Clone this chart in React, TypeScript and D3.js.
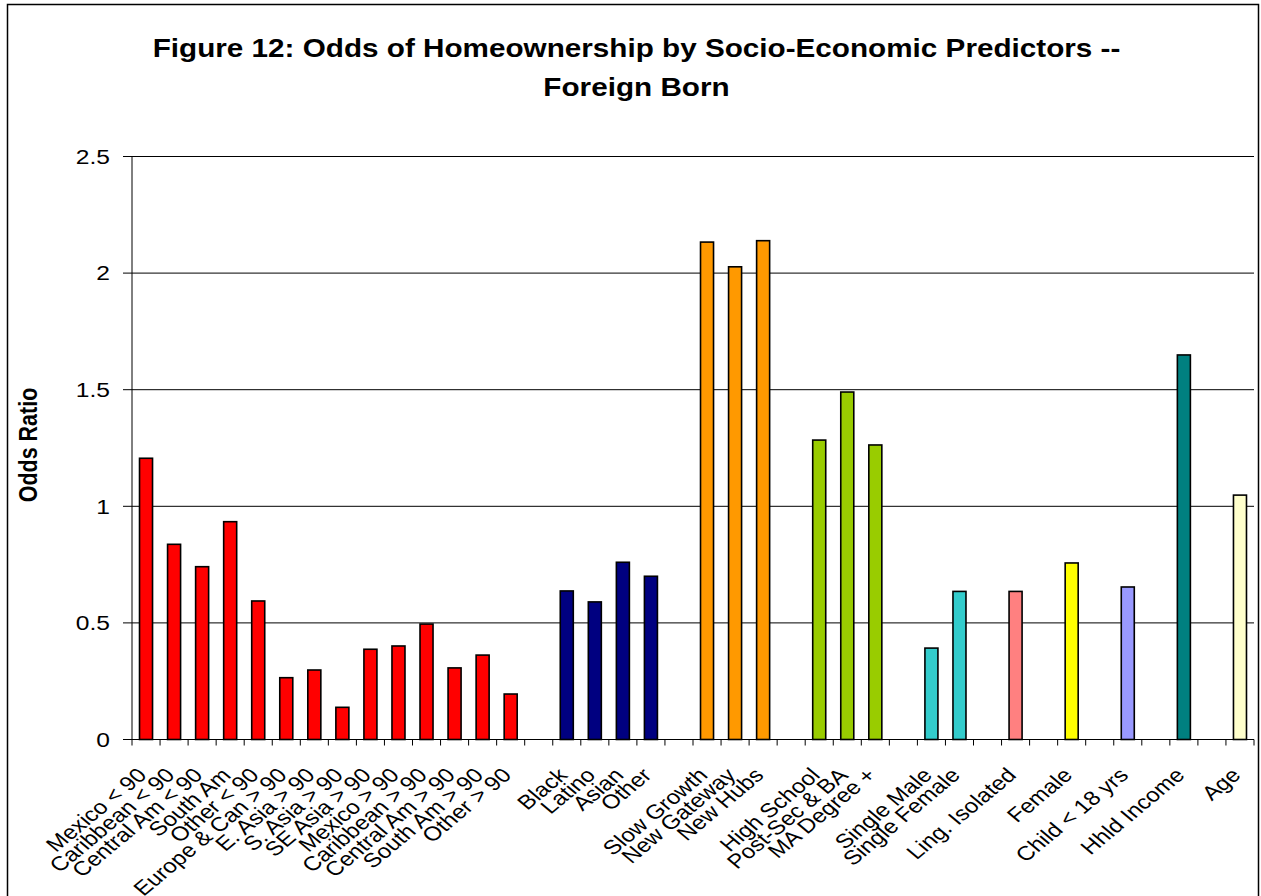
import React, { useEffect, useRef } from 'react';
import * as d3 from 'd3';

// slots on the x axis; empty strings are the gaps between groups
const categories = [
  'Mexico < 90', 'Caribbean < 90', 'Central Am < 90', 'South Am', 'Other < 90',
  'Europe & Can > 90', 'E. Asia > 90', 'S. Asia > 90', 'SE Asia > 90', 'Mexico > 90',
  'Caribbean > 90', 'Central Am > 90', 'South Am > 90', 'Other > 90', '',
  'Black', 'Latino', 'Asian', 'Other', '',
  'Slow Growth', 'New Gateway', 'New Hubs', '',
  'High School', 'Post-Sec & BA', 'MA Degree +', '',
  'Single Male', 'Single Female', '',
  'Ling. Isolated', '',
  'Female', '',
  'Child < 18 yrs', '',
  'Hhld Income', '',
  'Age',
];

const values: (number | null)[] = [
  1.206, 0.837, 0.741, 0.934, 0.594, 0.265, 0.298, 0.138, 0.387, 0.401,
  0.495, 0.307, 0.362, 0.195, null,
  0.637, 0.59, 0.76, 0.70, null,
  2.133, 2.027, 2.139, null,
  1.284, 1.49, 1.263, null,
  0.392, 0.635, null,
  0.635, null,
  0.757, null,
  0.654, null,
  1.649, null,
  1.048,
];

const colors = [
  '#FF0000', '#FF0000', '#FF0000', '#FF0000', '#FF0000', '#FF0000', '#FF0000', '#FF0000', '#FF0000', '#FF0000',
  '#FF0000', '#FF0000', '#FF0000', '#FF0000', '',
  '#000080', '#000080', '#000080', '#000080', '',
  '#FF9900', '#FF9900', '#FF9900', '',
  '#99CC00', '#99CC00', '#99CC00', '',
  '#33CCCC', '#33CCCC', '',
  '#FF8080', '',
  '#FFFF00', '',
  '#9999FF', '',
  '#008080', '',
  '#FFFFCC',
];

const yTicks = [0, 0.5, 1, 1.5, 2, 2.5];
const titleLines = ['Figure 12: Odds of Homeownership by Socio-Economic Predictors --', 'Foreign Born'];

const W = 1261;
const H = 896;
const font = '"Liberation Sans", Arial, sans-serif';
// the original picture is stretched sideways, so the text is too
const sx = 1.12;
const sxLabel = 1.2;

const App: React.FC = () => {
  const ref = useRef<SVGSVGElement>(null);

  useEffect(() => {
    if (!ref.current) return;
    const svg = d3.select(ref.current);
    svg.selectAll('*').remove();

    const plot = { left: 132, right: 1254, top: 156.5, bottom: 739.5 };

    svg.append('rect').attr('width', W).attr('height', H).attr('fill', '#fff');
    svg.append('rect')
      .attr('x', 7.5).attr('y', 4.5)
      .attr('width', 1251).attr('height', 920)
      .attr('fill', 'none').attr('stroke', '#000').attr('stroke-width', 1.5);

    const x = d3.scaleBand<number>()
      .domain(d3.range(categories.length))
      .range([plot.left, plot.right])
      .paddingInner(0.536)
      .paddingOuter(0.268);
    const step = x.step();

    const y = d3.scaleLinear().domain([0, 2.5]).range([plot.bottom, plot.top]);

    // gridlines
    svg.append('g')
      .selectAll('line')
      .data(yTicks.filter(t => t > 0))
      .enter()
      .append('line')
      .attr('x1', plot.left).attr('x2', plot.right)
      .attr('y1', d => y(d)).attr('y2', d => y(d))
      .attr('stroke', '#000').attr('stroke-width', 1);

    // bars
    svg.append('g')
      .selectAll('rect')
      .data(values.map((v, i) => ({ v, i })).filter(d => d.v !== null))
      .enter()
      .append('rect')
      .attr('x', d => x(d.i) as number)
      .attr('width', x.bandwidth())
      .attr('y', d => y(d.v as number))
      .attr('height', d => y(0) - y(d.v as number))
      .attr('fill', d => colors[d.i])
      .attr('stroke', '#000')
      .attr('stroke-width', 1.6);

    // y axis
    const yAxis = svg.append('g');
    yAxis.append('line')
      .attr('x1', plot.left).attr('x2', plot.left)
      .attr('y1', plot.top).attr('y2', plot.bottom)
      .attr('stroke', '#000');
    yAxis.selectAll('line.tick')
      .data(yTicks)
      .enter()
      .append('line')
      .attr('class', 'tick')
      .attr('x1', plot.left - 9).attr('x2', plot.left)
      .attr('y1', d => y(d)).attr('y2', d => y(d))
      .attr('stroke', '#000');
    yAxis.selectAll('text')
      .data(yTicks)
      .enter()
      .append('text')
      .attr('transform', d => `translate(110,${y(d) + 7.3}) scale(${sxLabel},1)`)
      .attr('text-anchor', 'end')
      .style('font-family', font)
      .style('font-size', '20.5px')
      .text(d => d3.format('~g')(d));

    // x axis
    const xAxis = svg.append('g');
    xAxis.append('line')
      .attr('x1', plot.left - 9).attr('x2', plot.right)
      .attr('y1', plot.bottom).attr('y2', plot.bottom)
      .attr('stroke', '#000');
    xAxis.selectAll('line.tick')
      .data(d3.range(categories.length + 1))
      .enter()
      .append('line')
      .attr('class', 'tick')
      .attr('x1', i => plot.left + i * step).attr('x2', i => plot.left + i * step)
      .attr('y1', plot.bottom).attr('y2', plot.bottom + 6)
      .attr('stroke', '#000');
    xAxis.selectAll('text')
      .data(categories.map((c, i) => ({ c, i })).filter(d => d.c !== ''))
      .enter()
      .append('text')
      .attr('transform', d => {
        const cx = (x(d.i) as number) + x.bandwidth() / 2;
        return `translate(${cx - 4},${plot.bottom + 32}) scale(${sxLabel},1) rotate(-45)`;
      })
      .attr('text-anchor', 'end')
      .attr('dy', '0.35em')
      .style('font-family', font)
      .style('font-size', '20px')
      .text(d => d.c);

    // axis title
    svg.append('text')
      .attr('transform', `translate(37,445) scale(${sxLabel},1) rotate(-90)`)
      .attr('text-anchor', 'middle')
      .style('font-family', font)
      .style('font-size', '21.5px')
      .style('font-weight', 'bold')
      .text('Odds Ratio');

    // chart title
    svg.append('g')
      .selectAll('text')
      .data(titleLines)
      .enter()
      .append('text')
      .attr('transform', (_, i) => `translate(636.5,${57 + i * 39.3}) scale(${sx},1)`)
      .attr('text-anchor', 'middle')
      .style('font-family', font)
      .style('font-size', '26.5px')
      .style('font-weight', 'bold')
      .text(d => d);
  }, []);

  return (
    <svg
      ref={ref}
      width={W}
      height={H}
      style={{ position: 'absolute', left: 0, top: 0, display: 'block' }}
    />
  );
};

export default App;
